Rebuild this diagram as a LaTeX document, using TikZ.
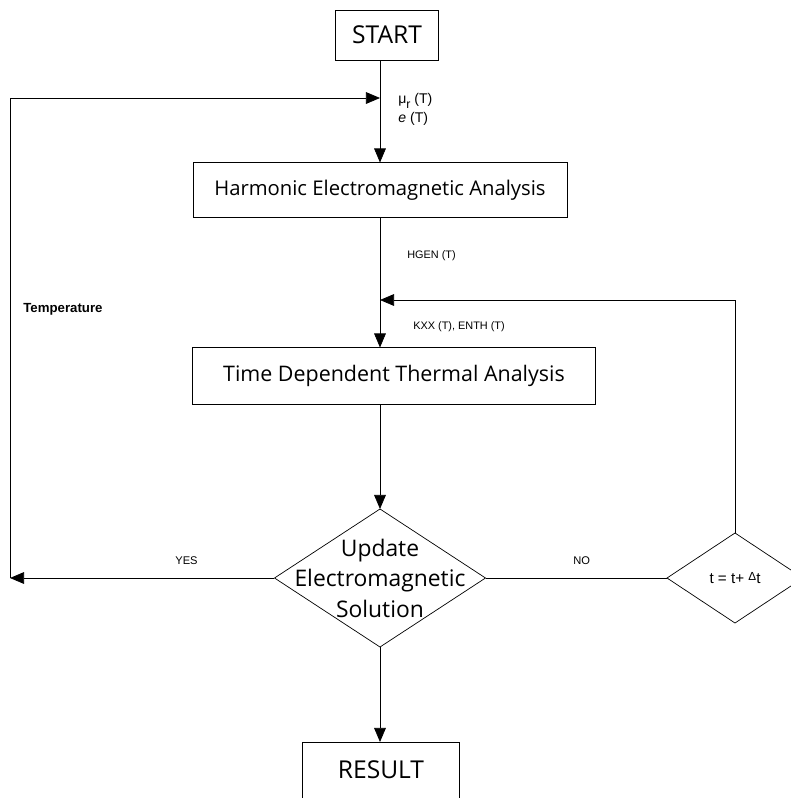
\documentclass[tikz,border=0pt]{standalone}
\usepackage{fontspec}
\setmainfont{Open Sans}
\newfontfamily\labelfont{Liberation Sans}
\usetikzlibrary{arrows.meta}
\usetikzlibrary{shapes.geometric}
\newcommand{\boxfont}[1]{\fontsize{#1}{#1}\selectfont}
\tikzstyle{procbox}=[draw, rectangle, inner sep=0, outer sep=0]
\tikzstyle{decision}=[draw, diamond, inner sep=0, outer sep=0]
\tikzstyle{flowline}=[-{Triangle[length=12pt, width=10pt]}]
\tikzstyle{tag}=[inner sep=0, anchor=west, font=\labelfont\fontsize{9}{11}\selectfont]
\tikzstyle{flowchart}=[x=0.03cm, y=-0.03cm, line width=0.6pt]

\begin{document}
\begin{tikzpicture}[flowchart]
        \useasboundingbox (0,0) rectangle (791,798);
        % boxes
        \node[procbox, font=\boxfont{21}, minimum width=3.09cm, minimum height=1.5cm] (S) at (387,35) {START};
        \node[procbox, font=\boxfont{17.3}, minimum width=11.22cm, minimum height=1.65cm] (H) at (380,190) {Harmonic Electromagnetic Analysis};
        \node[procbox, font=\boxfont{18.3}, minimum width=12.09cm, minimum height=1.71cm] (T) at (394,376) {Time Dependent Thermal Analysis};
        \node[decision, minimum width=6.33cm, minimum height=4.14cm,
              label={[align=center, font=\fontsize{19.5}{26}\selectfont]center:Update\\Electromagnetic\\Solution}] (U) at (380,578) {};
        \node[decision, minimum width=4.08cm, minimum height=2.7cm,
              label={[font=\labelfont\fontsize{13}{15}\selectfont]center:t = t+ \raisebox{0.45ex}{\fontsize{10}{10}\selectfont Δ}t}] (D) at (735,578) {};
        \node[procbox, font=\boxfont{21}, minimum width=4.71cm, minimum height=1.68cm] (R) at (381,770) {RESULT};
        % corners of the loops
        \coordinate (yesend) at (10,578);
        \coordinate (emin)   at (380,98);
        \coordinate (thin)   at (380,300);
        % labels
        \node[tag, font=\labelfont\fontsize{12}{13}\selectfont] (mu) at (398,101) {μ\raisebox{-0.7ex}{\fontsize{10.5}{10.5}\selectfont r} (T)};
        \node[tag, font=\labelfont\fontsize{12}{13}\selectfont] (eps) at (398,119) {\textit{e} (T)};
        \node[tag, font=\labelfont\fontsize{9.3}{11}\selectfont] (hgen) at (407,256) {HGEN (T)};
        \node[tag, font=\labelfont\fontsize{9.3}{11}\selectfont] (kxx)  at (413,327) {KXX (T), ENTH (T)};
        \node[tag, font=\labelfont\bfseries\fontsize{11.3}{13}\selectfont] (temp) at (23,309) {Temperature};
        \node[tag, font=\labelfont\fontsize{9.5}{11}\selectfont] (yes) at (175,561) {YES};
        \node[tag, font=\labelfont\fontsize{9.5}{11}\selectfont] (no)  at (573,561) {NO};
        % connectors
        \draw[flowline] (S.south -| H.north) -- (H.north);
        \draw[flowline] (H.south) -- (H.south |- T.north);
        \draw[flowline] (H.south |- T.south) -- (U.north);
        \draw[flowline] (U.south) -- (U.south |- R.north);
        \draw[flowline] (U.west) -- (yesend);
        \draw[flowline] (yesend) |- (emin);
        \draw (U.east) -- (D.west);
        \draw[flowline] (D.north) |- (thin);
\end{tikzpicture}
\end{document}
